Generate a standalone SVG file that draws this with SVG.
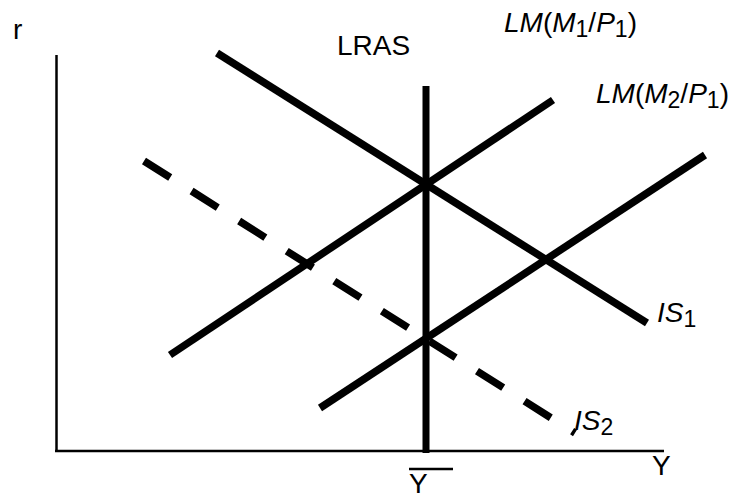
<svg xmlns="http://www.w3.org/2000/svg" width="734" height="495" viewBox="0 0 734 495">
<style>
.ln{stroke:#000;fill:none;stroke-linecap:butt}
.ax{stroke:#000;stroke-width:2.5;fill:none}
.t{font-family:"Liberation Sans",Arial,sans-serif;font-size:28px;fill:#000}
.i{font-style:italic}
.sub{font-size:23px}
</style>
<rect width="734" height="495" fill="#fff"/>
<g id="connectors">
<line class="ax" x1="56.5" y1="55" x2="56.5" y2="452"/>
<line class="ax" x1="55" y1="451" x2="664" y2="451" stroke-width="3"/>
<line id="lras" class="ln" x1="426" y1="86" x2="426" y2="453" stroke-width="7"/>
<line id="is1" class="ln" x1="217" y1="53" x2="647" y2="323" stroke-width="7.5"/>
<line id="lm1" class="ln" x1="170" y1="355" x2="553" y2="100" stroke-width="7.5"/>
<line id="lm2" class="ln" x1="320" y1="408" x2="705" y2="155" stroke-width="7.5"/>
<line id="is2" class="ln" x1="144" y1="161" x2="575" y2="433" stroke-width="7.5" stroke-dasharray="31 25.25"/>
<line class="ax" x1="409" y1="469" x2="453" y2="469" stroke-width="2.5"/>
</g>
<g id="label-r"><text class="t" x="13" y="39">r</text></g>
<g id="label-lras"><text class="t" x="337" y="55" font-size="28.5">LRAS</text></g>
<g id="label-lm1"><text class="t" x="504" y="32"><tspan class="i">LM</tspan>(<tspan class="i">M</tspan><tspan class="sub" dy="5">1</tspan><tspan dy="-5">/</tspan><tspan class="i">P</tspan><tspan class="sub" dy="5">1</tspan><tspan dy="-5">)</tspan></text></g>
<g id="label-lm2"><text class="t" x="596" y="103"><tspan class="i">LM</tspan>(<tspan class="i">M</tspan><tspan class="sub" dy="5">2</tspan><tspan dy="-5">/</tspan><tspan class="i">P</tspan><tspan class="sub" dy="5">1</tspan><tspan dy="-5">)</tspan></text></g>
<g id="label-is1"><text class="t" x="657" y="322"><tspan class="i">IS</tspan><tspan class="sub" dy="5">1</tspan></text></g>
<g id="label-is2"><text class="t" x="574" y="430"><tspan class="i">IS</tspan><tspan class="sub" dy="5">2</tspan></text></g>
<g id="label-y"><text class="t" x="652" y="475">Y</text></g>
<g id="label-ybar"><text class="t" x="409" y="493">Y</text></g>
</svg>
